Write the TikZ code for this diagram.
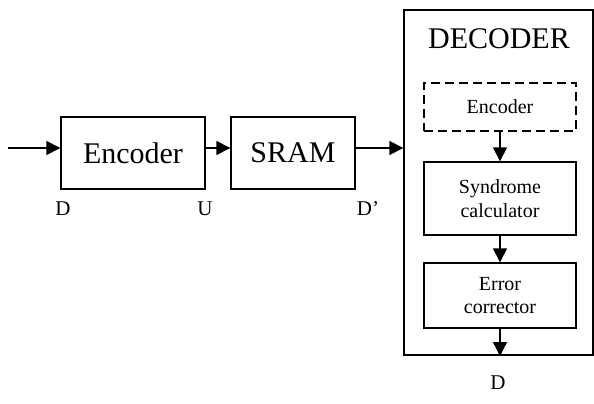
\documentclass[tikz,border=0pt]{standalone}
\usepackage{fontspec}
\setmainfont{Liberation Serif}
\usetikzlibrary{arrows.meta}

\tikzset{
    blk/.style={draw, line width=1.4pt, inner sep=0pt},
    dashblk/.style={blk, line width=1.8pt, dash pattern=on 9pt off 5pt},
    conn/.style={line width=1.4pt, -{Triangle[length=14pt,width=14pt]}},
    bigtxt/.style={font=\fontsize{30}{33}\selectfont},
    smalltxt/.style={font=\fontsize{20}{23.5}\selectfont, align=center},
    lbl/.style={font=\fontsize{21}{24}\selectfont}
}

\begin{document}
\begin{tikzpicture}[x=1pt, y=-1pt]
    \useasboundingbox (0,0) rectangle (594,404);

    % encoder and memory
    \node[blk, bigtxt, minimum width=144pt, minimum height=72pt] (enc) at (133,153) {Encoder};
    \node[blk, bigtxt, minimum width=124pt, minimum height=72pt] (sram) at (293,153) {SRAM};

    % decoder with its three stages
    \node[blk, minimum width=189pt, minimum height=345pt] (dec) at (498.5,182.5) {};
    \node[bigtxt] (dectitle) at (499,39) {DECODER};
    \node[dashblk, smalltxt, minimum width=152pt, minimum height=48pt] (reenc) at (500,107) {Encoder};
    \node[blk, smalltxt, minimum width=152pt, minimum height=73pt] (synd) at (500,198.5) {Syndrome\\calculator};
    \node[blk, smalltxt, minimum width=152pt, minimum height=65pt] (corr) at (500,295.5) {Error\\corrector};

    \coordinate (in) at (8,148);
    \coordinate (out) at (500,356);

    % data path
    \draw[conn] (in) -- (in -| enc.west);
    \draw[conn] ([yshift=5pt]enc.east) -- ([yshift=5pt]enc.east -| sram.west);
    \draw[conn] ([yshift=5pt]sram.east) -- ([yshift=5pt]sram.east -| dec.west);
    \draw[conn] (reenc.south) -- (synd.north);
    \draw[conn] (synd.south) -- (corr.north);
    \draw[conn] (corr.south) -- (out);

    % signal names
    \node[lbl] (ld) at (63,209) {D};
    \node[lbl] (lu) at (205,209) {U};
    \node[lbl] (ldp) at (368,209) {D’};
    \node[lbl] (ldout) at (498,383) {D};
\end{tikzpicture}
\end{document}
